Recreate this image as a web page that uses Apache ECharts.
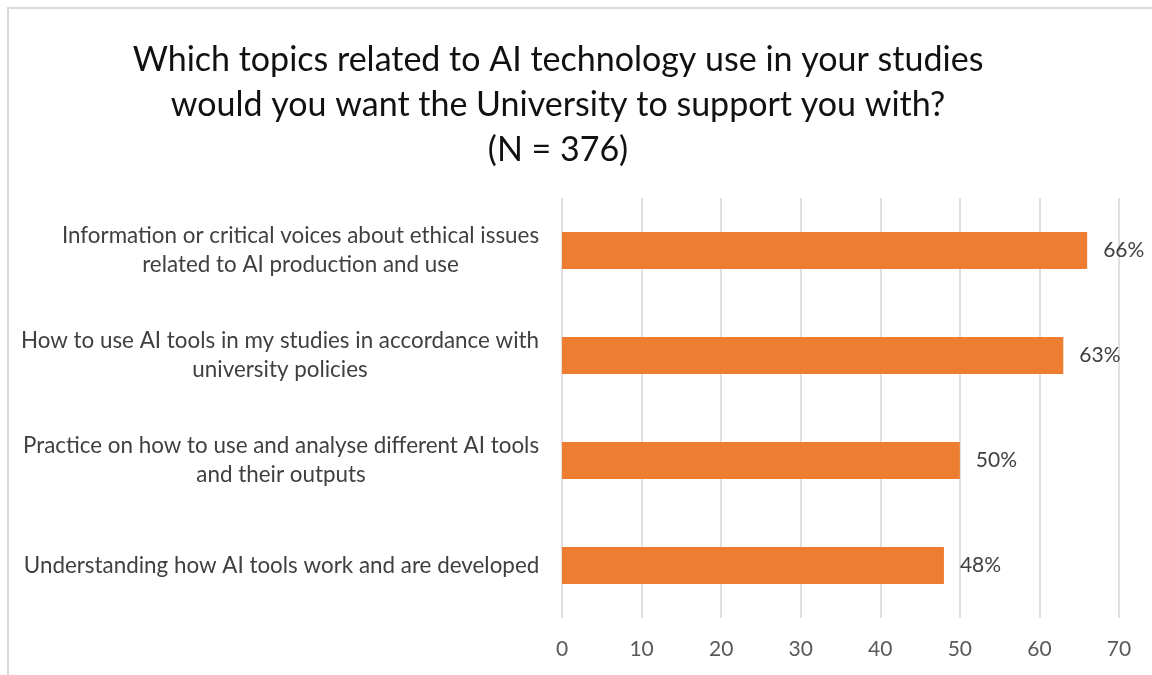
<!DOCTYPE html>
<html>
<head>
<meta charset="utf-8">
<script src="https://cdn.jsdelivr.net/npm/echarts@6/dist/echarts.min.js"></script>
<style>
  html, body { margin: 0; padding: 0; background: #fff; }
  #chart { position: absolute; left: 0; top: 0; width: 1152px; height: 675px; }
  #frame { position: absolute; left: 7px; top: 7px; width: 1152px; height: 675px;
           border-left: 2px solid #d9d9d9; border-top: 2px solid #d9d9d9; pointer-events: none; }
</style>
</head>
<body>
<div id="chart"></div>
<div id="frame"></div>
<script>
// Survey topics, listed bottom-to-top as the category axis draws them
const categories = [
  'Understanding how AI tools work and are developed',
  'Practice on how to use and analyse different AI tools\nand their outputs',
  'How to use AI tools in my studies in accordance with\nuniversity policies',
  'Information or critical voices about ethical issues\nrelated to AI production and use'
];
const shares = [48, 50, 63, 66];
const xTicks = [0, 10, 20, 30, 40, 50, 60, 70];

const FONT = 'Lato, "Open Sans", sans-serif';
const LABEL_SIZE = 22.4;

// Measure each label so multi-line labels can be centred within their own block
const ctx = document.createElement('canvas').getContext('2d');
ctx.font = LABEL_SIZE + 'px ' + FONT;
const rich = {};
categories.forEach((c, i) => {
  const w = Math.max(...c.split('\n').map(s => ctx.measureText(s).width));
  rich['c' + i] = { width: Math.ceil(w) + 1, align: 'center', fontSize: LABEL_SIZE,
                    fontFamily: FONT, color: '#404040', lineHeight: 29 };
});

const chart = echarts.init(document.getElementById('chart'), null, { renderer: 'canvas' });
chart.setOption({
  animation: false,
  title: {
    text: 'Which topics related to AI technology use in your studies\nwould you want the University to support you with?\n(N = 376)',
    left: 553, top: 33, textAlign: 'center',
    textStyle: { fontFamily: FONT, fontSize: 34, fontWeight: 'normal', color: '#111', lineHeight: 45 }
  },
  grid: { left: 562, right: 33, top: 198, bottom: 57, containLabel: false },
  xAxis: {
    type: 'value', min: xTicks[0], max: xTicks[xTicks.length - 1], interval: 10,
    axisLine: { show: false }, axisTick: { show: false },
    axisLabel: { fontFamily: FONT, fontSize: 21, color: '#595959', margin: 21 },
    splitLine: { lineStyle: { color: '#d6d6d6', width: 1.5 } }
  },
  yAxis: {
    type: 'category', data: categories,
    axisLine: { show: false }, axisTick: { show: false },
    axisLabel: {
      margin: 22,
      formatter: (v, i) => v.split('\n').map(s => '{c' + i + '|' + s + '}').join('\n'),
      rich: rich
    }
  },
  series: [{
    type: 'bar', data: shares, barWidth: 37,
    itemStyle: { color: '#ED7D31' },
    label: {
      show: true, position: 'right', distance: 16, formatter: '{c}%',
      fontFamily: FONT, fontSize: 21, color: '#404040'
    }
  }]
});
</script>
</body>
</html>
